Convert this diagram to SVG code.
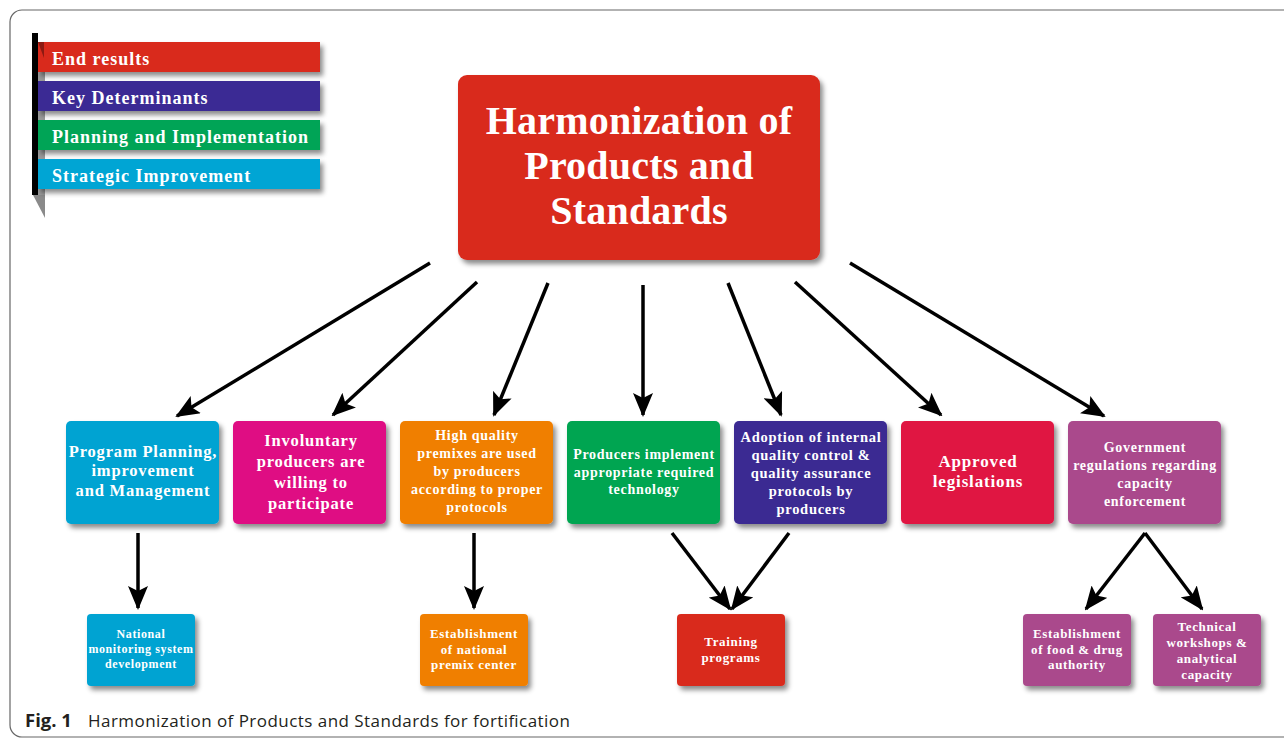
<svg xmlns="http://www.w3.org/2000/svg" width="1284" height="740" viewBox="0 0 1284 740">
  <defs>
    <filter id="shadow" x="-10%" y="-10%" width="130%" height="140%">
      <feDropShadow dx="3" dy="4" stdDeviation="2.5" flood-color="#000" flood-opacity="0.45"/>
    </filter>
    <marker id="head" viewBox="0 0 24 20" refX="22" refY="10" markerWidth="24" markerHeight="20" markerUnits="userSpaceOnUse" orient="auto">
      <path d="M0,0 L24,10 L0,20 L5,10 Z" fill="#000"/>
    </marker>
    <style>
      .box { filter: url(#shadow); }
      .t { font-family: "Liberation Serif", "Times New Roman", serif; font-weight: bold; fill: #fff; text-anchor: middle; letter-spacing: 0.05em; }
      .title { letter-spacing: 0.005em; }
      .leg { font-family: "Liberation Serif", "Times New Roman", serif; font-weight: bold; fill: #fff; font-size: 18px; letter-spacing: 1px; }
      .arrow { stroke: #000; stroke-width: 3.5; fill: none; marker-end: url(#head); }
      .cap { font-family: "Open Sans", "Liberation Sans", sans-serif; font-size: 17px; fill: #231f20; }
    </style>
  </defs>

  <rect width="1284" height="740" fill="#fff"/>
  <!-- figure frame -->
  <rect x="10" y="10" width="1300" height="727" rx="12" fill="none" stroke="#666" stroke-width="1.2"/>

  <!-- legend -->
  <g id="legend">
    <polygon points="33,195 45,195 45,218" fill="#8a8a8a"/>
    <rect x="37" y="42" width="8" height="153" fill="#9a9a9a"/>
    <rect x="32" y="33" width="6" height="162" fill="#000"/>
    <rect class="box" x="38" y="42" width="282" height="30" fill="#D92B1E"/>
    <polygon points="38,42 44,42 44,58" fill="#8c1a12"/>
    <rect class="box" x="38" y="81" width="282" height="30" fill="#3B2A94"/>
    <rect class="box" x="38" y="120" width="282" height="30" fill="#05A457"/>
    <rect class="box" x="38" y="159" width="282" height="30" fill="#00A5D4"/>
    <text class="leg" x="52" y="65">End results</text>
    <text class="leg" x="52" y="104">Key Determinants</text>
    <text class="leg" x="52" y="143">Planning and Implementation</text>
    <text class="leg" x="52" y="182">Strategic Improvement</text>
  </g>

  <!-- main title node -->
  <g id="title">
    <rect class="box" x="458" y="75" width="362" height="185" rx="9" fill="#D92B1E"/>
    <text class="t title" x="639" y="134" font-size="40">Harmonization of</text>
    <text class="t title" x="639" y="179" font-size="40">Products and</text>
    <text class="t title" x="639" y="224" font-size="40">Standards</text>
  </g>

  <!-- key determinant nodes -->
  <g id="program-planning">
    <rect class="box" x="66" y="421" width="153" height="103" rx="5" fill="#00A3D2"/>
    <text class="t" x="143" y="457" font-size="16.5">Program Planning,</text>
    <text class="t" x="143" y="476" font-size="16.5">improvement</text>
    <text class="t" x="143" y="496" font-size="16.5">and Management</text>
  </g>
  <g id="involuntary-producers">
    <rect class="box" x="233" y="421" width="153" height="103" rx="5" fill="#DF0A83"/>
    <text class="t" x="311" y="446" font-size="16.5">Involuntary</text>
    <text class="t" x="311" y="467" font-size="16.5">producers are</text>
    <text class="t" x="311" y="488" font-size="16.5">willing to</text>
    <text class="t" x="311" y="509" font-size="16.5">participate</text>
  </g>
  <g id="quality-premixes">
    <rect class="box" x="400" y="421" width="153" height="103" rx="5" fill="#F07F00"/>
    <text class="t" x="477" y="440" font-size="14">High quality</text>
    <text class="t" x="477" y="458" font-size="14">premixes are used</text>
    <text class="t" x="477" y="476" font-size="14">by producers</text>
    <text class="t" x="477" y="494" font-size="14">according to proper</text>
    <text class="t" x="477" y="512" font-size="14">protocols</text>
  </g>
  <g id="producers-technology">
    <rect class="box" x="567" y="421" width="153" height="103" rx="5" fill="#00A551"/>
    <text class="t" x="644" y="459" font-size="14">Producers implement</text>
    <text class="t" x="644" y="477" font-size="14">appropriate required</text>
    <text class="t" x="644" y="494" font-size="14">technology</text>
  </g>
  <g id="quality-control">
    <rect class="box" x="734" y="421" width="153" height="103" rx="5" fill="#3A2A92"/>
    <text class="t" x="811" y="442" font-size="14.5">Adoption of internal</text>
    <text class="t" x="811" y="460" font-size="14.5">quality control &amp;</text>
    <text class="t" x="811" y="478" font-size="14.5">quality assurance</text>
    <text class="t" x="811" y="496" font-size="14.5">protocols by</text>
    <text class="t" x="811" y="514" font-size="14.5">producers</text>
  </g>
  <g id="approved-legislations">
    <rect class="box" x="901" y="421" width="153" height="103" rx="5" fill="#E01443"/>
    <text class="t" x="978" y="467" font-size="17">Approved</text>
    <text class="t" x="978" y="487" font-size="17">legislations</text>
  </g>
  <g id="government-regulations">
    <rect class="box" x="1068" y="421" width="153" height="103" rx="5" fill="#AA4A8C"/>
    <text class="t" x="1145" y="452" font-size="14">Government</text>
    <text class="t" x="1145" y="470" font-size="14">regulations regarding</text>
    <text class="t" x="1145" y="488" font-size="14">capacity</text>
    <text class="t" x="1145" y="506" font-size="14">enforcement</text>
  </g>

  <!-- strategic sub-nodes -->
  <g id="monitoring-system">
    <rect class="box" x="87" y="614" width="108" height="72" rx="4" fill="#00A3D2"/>
    <text class="t" x="141" y="638" font-size="12">National</text>
    <text class="t" x="141" y="653" font-size="12">monitoring system</text>
    <text class="t" x="141" y="668" font-size="12">development</text>
  </g>
  <g id="premix-center">
    <rect class="box" x="420" y="614" width="108" height="72" rx="4" fill="#F07F00"/>
    <text class="t" x="474" y="638" font-size="13">Establishment</text>
    <text class="t" x="474" y="654" font-size="13">of national</text>
    <text class="t" x="474" y="669" font-size="13">premix center</text>
  </g>
  <g id="training-programs">
    <rect class="box" x="677" y="614" width="108" height="72" rx="4" fill="#D92B1E"/>
    <text class="t" x="731" y="646" font-size="13">Training</text>
    <text class="t" x="731" y="662" font-size="13">programs</text>
  </g>
  <g id="food-drug-authority">
    <rect class="box" x="1023" y="614" width="108" height="72" rx="4" fill="#AA4A8C"/>
    <text class="t" x="1077" y="638" font-size="13">Establishment</text>
    <text class="t" x="1077" y="654" font-size="13">of food &amp; drug</text>
    <text class="t" x="1077" y="669" font-size="13">authority</text>
  </g>
  <g id="technical-workshops">
    <rect class="box" x="1153" y="614" width="108" height="72" rx="4" fill="#AA4A8C"/>
    <text class="t" x="1207" y="631" font-size="13">Technical</text>
    <text class="t" x="1207" y="647" font-size="13">workshops &amp;</text>
    <text class="t" x="1207" y="663" font-size="13">analytical</text>
    <text class="t" x="1207" y="679" font-size="13">capacity</text>
  </g>

  <!-- connectors -->
  <g id="connectors">
    <line class="arrow" x1="430" y1="263" x2="177" y2="416"/>
    <line class="arrow" x1="477" y1="282" x2="333" y2="415"/>
    <line class="arrow" x1="548" y1="283" x2="494" y2="415"/>
    <line class="arrow" x1="643" y1="285" x2="643" y2="415"/>
    <line class="arrow" x1="728" y1="283" x2="781" y2="415"/>
    <line class="arrow" x1="795" y1="282" x2="941" y2="415"/>
    <line class="arrow" x1="850" y1="263" x2="1104" y2="416"/>
    <line class="arrow" x1="138" y1="533" x2="138" y2="608"/>
    <line class="arrow" x1="474" y1="533" x2="474" y2="608"/>
    <line class="arrow" x1="672" y1="533" x2="730" y2="609"/>
    <line class="arrow" x1="789" y1="533" x2="732" y2="609"/>
    <line class="arrow" x1="1145" y1="533" x2="1086" y2="609"/>
    <line class="arrow" x1="1145" y1="533" x2="1202" y2="609"/>
  </g>

  <!-- caption -->
  <text class="cap" x="25" y="727"><tspan font-weight="bold" font-size="18.5">Fig. 1</tspan><tspan x="88" textLength="482">Harmonization of Products and Standards for fortification</tspan></text>
</svg>
